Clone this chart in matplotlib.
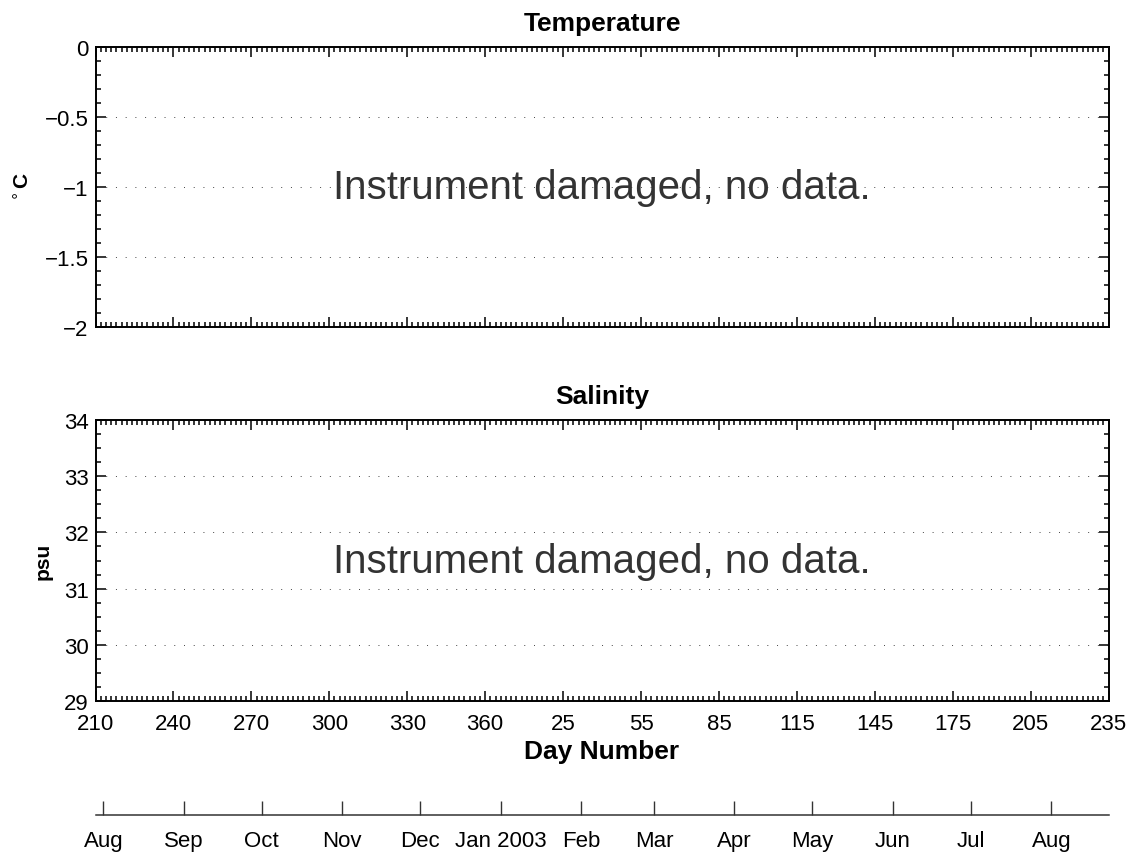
import numpy as np
import matplotlib
matplotlib.use('Agg')
from matplotlib import pyplot as plt
from matplotlib.ticker import FixedLocator, MultipleLocator

plt.rcParams['font.family'] = ['Liberation Sans', 'DejaVu Sans']
plt.rcParams['axes.linewidth'] = 1.4

# continuous day numbers, 2002 day 210 through 2003 day 235
day_start = 210
day_end = 600
day_ticks = np.arange(210, 601, 30)
day_labels = [str(d if d <= 365 else d - 365) for d in day_ticks]

month_days = [213, 244, 274, 305, 335, 366, 397, 425, 456, 486, 517, 547, 578]
month_labels = ['Aug', 'Sep', 'Oct', 'Nov', 'Dec', 'Jan 2003', 'Feb', 'Mar',
                'Apr', 'May', 'Jun', 'Jul', 'Aug']

temp_lim = (-2, 0)
temp_ticks = [-2, -1.5, -1, -0.5, 0]
temp_labels = ['\u22122', '\u22121.5', '\u22121', '\u22120.5', '0']

sal_lim = (29, 34)
sal_ticks = [29, 30, 31, 32, 33, 34]
sal_labels = ['29', '30', '31', '32', '33', '34']

msg = 'Instrument damaged, no data.'

fs = 16

fig = plt.figure(figsize=(11.36, 8.54), dpi=100)
ax_t = fig.add_axes([0.0841, 0.616, 0.8917, 0.328])
ax_s = fig.add_axes([0.0841, 0.178, 0.8917, 0.329])
ax_m = fig.add_axes([0.0841, 0.0448, 0.8917, 0.001])


def style(ax, lim, ticks, labels, ylabel, title, minor):
    ax.set_xlim(day_start, day_end)
    ax.set_ylim(*lim)
    ax.xaxis.set_major_locator(FixedLocator(day_ticks))
    ax.xaxis.set_minor_locator(MultipleLocator(2))
    ax.yaxis.set_major_locator(FixedLocator(ticks))
    ax.set_yticklabels(labels)
    ax.yaxis.set_minor_locator(MultipleLocator(minor))
    ax.tick_params(which='both', direction='in', top=True, right=True,
                   labelsize=fs, width=1.1, color='k')
    ax.tick_params(which='major', length=7)
    ax.tick_params(which='minor', length=3.5)
    ax.tick_params(axis='y', pad=5)
    ax.tick_params(axis='x', pad=9)
    for y in ticks:
        ax.axhline(y, color='#444444', lw=0.7, ls=(0, (1, 9)), zorder=0)
    ax.set_ylabel(ylabel, fontsize=15, fontweight='bold', labelpad=8)
    ax.set_title(title, fontsize=19, fontweight='bold', pad=12)
    ax.text(0.5, 0.5, msg, transform=ax.transAxes, ha='center', va='center',
            fontsize=29, color='#333333')


style(ax_t, temp_lim, temp_ticks, temp_labels, r'$^\circ$C', 'Temperature', 0.1)
style(ax_s, sal_lim, sal_ticks, sal_labels, 'psu', 'Salinity', 0.25)
ax_t.set_xticklabels([])
ax_s.set_xticklabels(day_labels)
ax_s.set_xlabel('Day Number', fontsize=19, fontweight='bold', labelpad=3)

# month strip under the day axis
ax_m.set_xlim(day_start, day_end)
ax_m.set_yticks([])
for side in ('top', 'left', 'right'):
    ax_m.spines[side].set_visible(False)
ax_m.spines['bottom'].set_color('#333333')
ax_m.spines['bottom'].set_linewidth(1.1)
ax_m.set_xticks(month_days)
ax_m.set_xticklabels(month_labels)
ax_m.tick_params(axis='x', direction='in', length=10, width=1.0,
                 color='#333333', labelsize=fs, pad=11)
ax_m.patch.set_visible(False)

fig.savefig('out.png', dpi=100)
